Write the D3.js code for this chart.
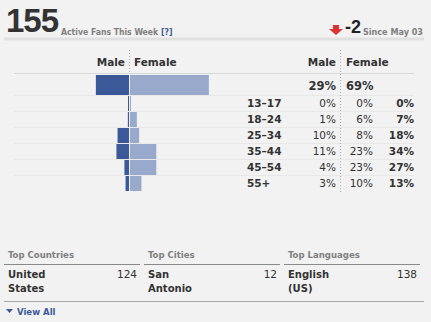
<!DOCTYPE html>
<html lang="en">
<head>
<meta charset="UTF-8">
<title>Active Fans</title>
<script src="https://d3js.org/d3.v7.min.js"></script>
<style>
  body { margin: 0; background: #f2f2f2; }
  svg { display: block; font-family: "DejaVu Sans", sans-serif; }
  .cond { font-family: "DejaVu Sans Condensed", "DejaVu Sans", sans-serif; font-stretch: condensed; }
</style>
</head>
<body>
<svg id="chart" width="431" height="322"></svg>
<script>
const activeFans = 155;
const weekChange = -2;
const sinceLabel = "Since May 03";

const ageGroups = ["13–17", "18–24", "25–34", "35–44", "45–54", "55+"];
const malePct = [0, 1, 10, 11, 4, 3];
const femalePct = [0, 6, 8, 23, 23, 10];
const agePct = [0, 7, 18, 34, 27, 13];
const totalMale = 29;
const totalFemale = 69;

const listTitles = ["Top Countries", "Top Cities", "Top Languages"];
const listNames = [["United", "States"], ["San", "Antonio"], ["English", "(US)"]];
const listCounts = [124, 12, 138];

const maleColor = "#3b5998";
const femaleColor = "#98a9cb";
const dark = "#333";
const grey = "#808080";

const svg = d3.select("#chart");

// --- header ---
svg.append("text")
  .attr("x", 6).attr("y", 32)
  .attr("font-family", "Liberation Sans, Arial, sans-serif")
  .attr("font-size", 33).attr("font-weight", "bold")
  .attr("letter-spacing", -1)
  .attr("fill", dark)
  .text(activeFans);

const sub = svg.append("text")
  .attr("class", "cond")
  .attr("x", 61).attr("y", 35)
  .attr("font-size", 8.6).attr("font-weight", "bold")
  .attr("fill", grey);
sub.append("tspan").text("Active Fans This Week ");
sub.append("tspan").attr("fill", maleColor).text("[?]");

// down arrow
svg.append("path")
  .attr("d", "M333,25 h6 v4 h4 l-7,6 l-7,-6 h4 z")
  .attr("fill", "#d33");

svg.append("text")
  .attr("x", 345).attr("y", 33)
  .attr("font-family", "Liberation Sans, Arial, sans-serif")
  .attr("font-size", 18).attr("font-weight", "bold")
  .attr("fill", "#222")
  .text(weekChange);

svg.append("text")
  .attr("class", "cond")
  .attr("x", 423).attr("y", 35)
  .attr("text-anchor", "end")
  .attr("font-size", 9).attr("font-weight", "bold")
  .attr("fill", grey)
  .text(sinceLabel);

svg.append("rect")
  .attr("x", 4).attr("y", 37.5).attr("width", 420).attr("height", 3)
  .attr("fill", "#e0e0e0");

// --- demographics ---
const barScale = d3.scaleLinear().domain([0, 70]).range([0, 80]);
const rowY = d3.scaleBand().domain(ageGroups).range([96, 192]);
const axisX = 129.5;
const tableMale = 336, tableFemale = 346, tableFemaleEnd = 373, tableTotal = 414;

// row lines
svg.append("line")
  .attr("x1", 14).attr("x2", 414).attr("y1", 73.5).attr("y2", 73.5)
  .attr("stroke", "#d9d9d9");
svg.selectAll(".rowline").data(ageGroups).join("line")
  .attr("x1", 14).attr("x2", 414)
  .attr("y1", d => rowY(d) - 0.5).attr("y2", d => rowY(d) - 0.5)
  .attr("stroke", "#e8e8e8");

// dotted dividers
svg.append("line")
  .attr("x1", axisX).attr("x2", axisX).attr("y1", 50).attr("y2", 73)
  .attr("stroke", "#aaa").attr("stroke-dasharray", "1,2");
svg.append("line")
  .attr("x1", 340.5).attr("x2", 340.5).attr("y1", 50).attr("y2", 192)
  .attr("stroke", "#aaa").attr("stroke-dasharray", "1,2");

// column headers
const headers = [
  { x: 125, a: "end", t: "Male" }, { x: 134, a: "start", t: "Female" },
  { x: tableMale, a: "end", t: "Male" }, { x: tableFemale, a: "start", t: "Female" }
];
svg.selectAll(".hdr").data(headers).join("text")
  .attr("x", d => d.x).attr("y", 66)
  .attr("text-anchor", d => d.a)
  .attr("font-size", 10.5).attr("font-weight", "bold")
  .attr("fill", dark)
  .text(d => d.t);

// total bars
svg.append("rect")
  .attr("x", axisX - 0.5 - barScale(totalMale)).attr("y", 75)
  .attr("width", barScale(totalMale)).attr("height", 20)
  .attr("fill", maleColor);
svg.append("rect")
  .attr("x", axisX + 0.5).attr("y", 75)
  .attr("width", barScale(totalFemale)).attr("height", 20)
  .attr("fill", femaleColor);

svg.append("text")
  .attr("x", tableMale).attr("y", 90).attr("text-anchor", "end")
  .attr("font-size", 11.5).attr("font-weight", "bold").attr("fill", dark)
  .text(totalMale + "%");
svg.append("text")
  .attr("x", tableFemale).attr("y", 90)
  .attr("font-size", 11.5).attr("font-weight", "bold").attr("fill", dark)
  .text(totalFemale + "%");

// age bars
const rows = ageGroups.map((g, i) => ({ g, m: malePct[i], f: femalePct[i], t: agePct[i] }));
const minW = v => Math.max(1, barScale(v));

svg.selectAll(".mbar").data(rows).join("rect")
  .attr("x", d => axisX - 0.5 - minW(d.m))
  .attr("y", d => rowY(d.g))
  .attr("width", d => minW(d.m))
  .attr("height", rowY.bandwidth() - 1)
  .attr("fill", maleColor);
svg.selectAll(".fbar").data(rows).join("rect")
  .attr("x", axisX + 0.5)
  .attr("y", d => rowY(d.g))
  .attr("width", d => minW(d.f))
  .attr("height", rowY.bandwidth() - 1)
  .attr("fill", femaleColor);

const base = d => rowY(d.g) + 11;
svg.selectAll(".age").data(rows).join("text")
  .attr("x", 247).attr("y", base)
  .attr("font-size", 10.5).attr("font-weight", "bold").attr("fill", dark)
  .text(d => d.g);
svg.selectAll(".mval").data(rows).join("text")
  .attr("x", tableMale).attr("y", base).attr("text-anchor", "end")
  .attr("font-size", 10.5).attr("fill", dark)
  .text(d => d.m + "%");
svg.selectAll(".fval").data(rows).join("text")
  .attr("x", tableFemaleEnd).attr("y", base).attr("text-anchor", "end")
  .attr("font-size", 10.5).attr("fill", dark)
  .text(d => d.f + "%");
svg.selectAll(".tval").data(rows).join("text")
  .attr("x", tableTotal).attr("y", base).attr("text-anchor", "end")
  .attr("font-size", 10.5).attr("font-weight", "bold").attr("fill", dark)
  .text(d => d.t + "%");

// --- top lists ---
const colX = [4, 144, 284];
const lists = listTitles.map((t, i) => ({ t, names: listNames[i], n: listCounts[i], x: colX[i] }));
const cols = svg.selectAll(".col").data(lists).join("g")
  .attr("transform", d => `translate(${d.x},0)`);
cols.append("text")
  .attr("class", "cond")
  .attr("x", 4).attr("y", 258)
  .attr("font-size", 9.5).attr("font-weight", "bold").attr("fill", grey)
  .text(d => d.t);
cols.append("line")
  .attr("x1", 0).attr("x2", 136).attr("y1", 264.5).attr("y2", 264.5)
  .attr("stroke", "#8a8a8a");
cols.selectAll(".nm").data(d => d.names).join("text")
  .attr("x", 4).attr("y", (d, i) => 278 + i * 14)
  .attr("font-size", 10).attr("font-weight", "bold").attr("fill", dark)
  .text(d => d);
cols.append("text")
  .attr("x", 133).attr("y", 278).attr("text-anchor", "end")
  .attr("font-size", 10.5).attr("fill", dark)
  .text(d => d.n);

svg.append("line")
  .attr("x1", 4).attr("x2", 424).attr("y1", 301.5).attr("y2", 301.5)
  .attr("stroke", "#a8a8a8");

svg.append("path")
  .attr("d", "M6,309 h7 l-3.5,4 z")
  .attr("fill", maleColor);
svg.append("text")
  .attr("class", "cond")
  .attr("x", 17).attr("y", 315)
  .attr("font-size", 9.5).attr("font-weight", "bold").attr("fill", maleColor)
  .text("View All");
</script>
</body>
</html>
